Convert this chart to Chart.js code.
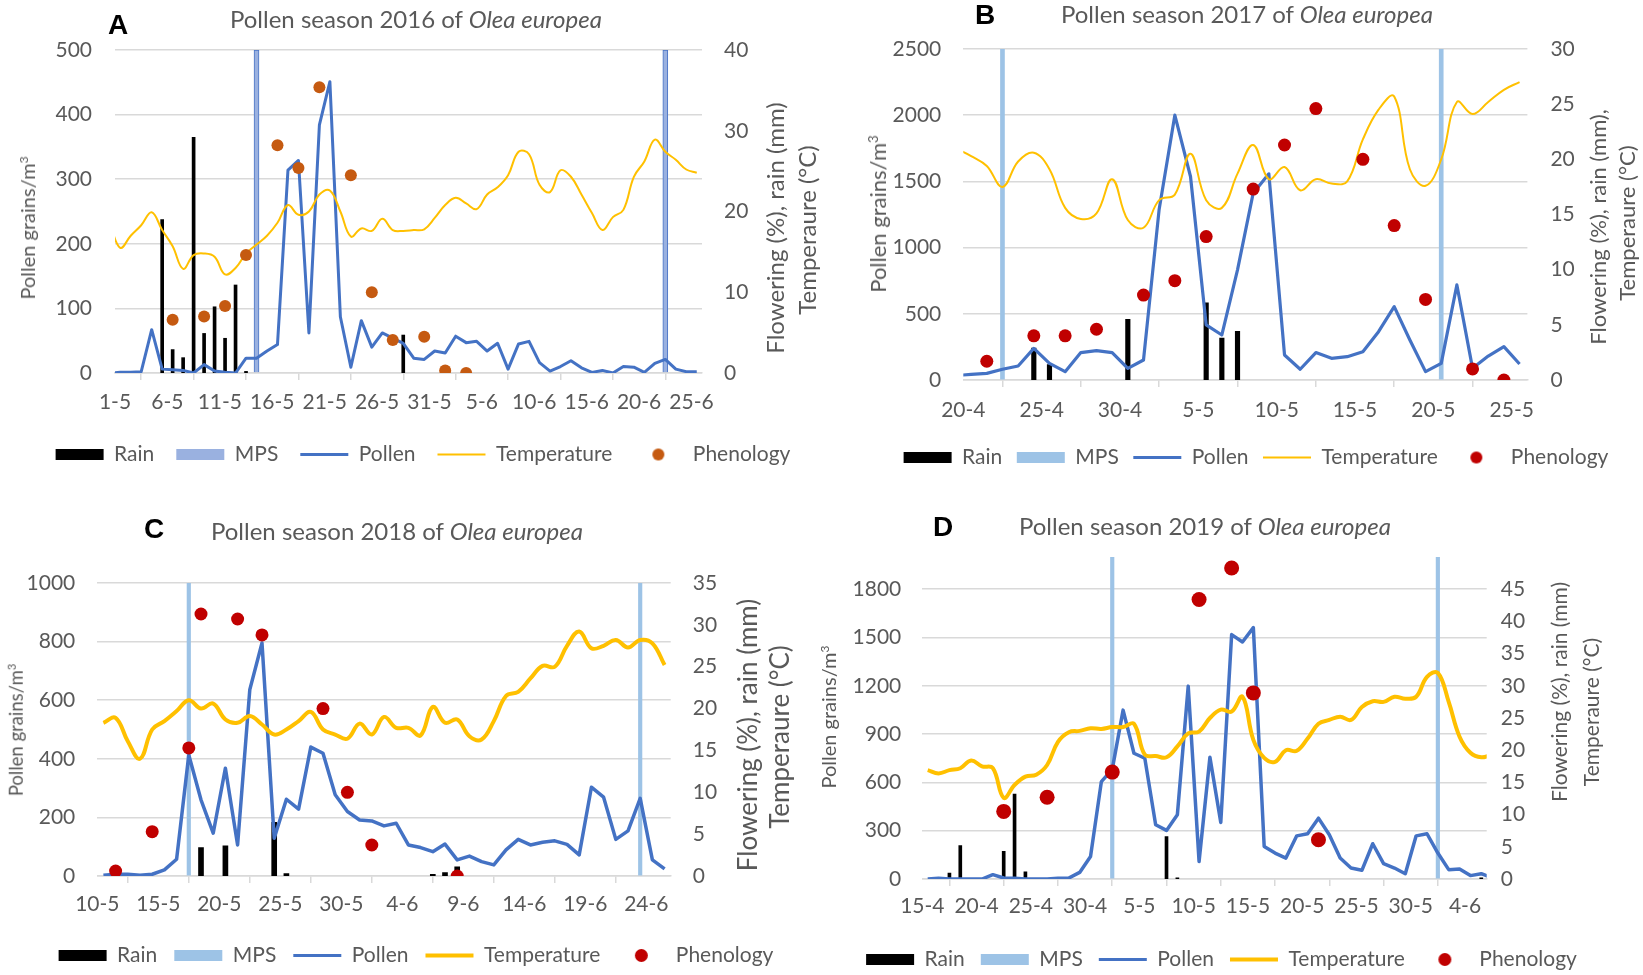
<!DOCTYPE html>
<html>
<head>
<meta charset="utf-8">
<title>Pollen seasons of Olea europea</title>
<script src="https://cdn.jsdelivr.net/npm/chart.js@4.4.1/dist/chart.umd.min.js"></script>
<style>
  html, body { margin: 0; padding: 0; background: #fff; }
  #page { position: relative; width: 1643px; height: 975px; overflow: hidden; }
  canvas { position: absolute; }
  .t { position: absolute; transform: translate(-50%, -50%); white-space: nowrap; font-family: Lato, "Open Sans", sans-serif; color: #595959; line-height: 1; }
  .v { transform: translate(-50%, -50%) rotate(-90deg); }
  .title { font-size: 24px; }
  .letter { font-family: "Liberation Sans", Arial, sans-serif; font-weight: bold; color: #000; font-size: 28px; }
  sup { font-size: 0.6em; vertical-align: 0.6em; line-height: 0; }
</style>
</head>
<body>
<div id="page">
  <canvas id="chartA"></canvas>
  <canvas id="chartB"></canvas>
  <canvas id="chartC"></canvas>
  <canvas id="chartD"></canvas>

  <div class="t letter" style="left:118px;top:25px">A</div>
  <div class="t title" style="left:416px;top:19px">Pollen season 2016 of <i>Olea europea</i></div>
  <div class="t v" style="left:27px;top:228px;font-size:20px">Pollen grains/m<sup>3</sup></div>
  <div class="t v" style="left:775px;top:228px;font-size:24px">Flowering (%), rain (mm)</div>
  <div class="t v" style="left:807px;top:230px;font-size:24px">Temperaure (°C)</div>

  <div class="t letter" style="left:985px;top:15px">B</div>
  <div class="t title" style="left:1247px;top:14px">Pollen season 2017 of <i>Olea europea</i></div>
  <div class="t v" style="left:878px;top:214px;font-size:22px">Pollen grains/m<sup>3</sup></div>
  <div class="t v" style="left:1598px;top:227px;font-size:22px">Flowering (%), rain (mm),</div>
  <div class="t v" style="left:1627px;top:223px;font-size:22px">Temperaure (°C)</div>

  <div class="t letter" style="left:154px;top:529px">C</div>
  <div class="t title" style="left:397px;top:531px">Pollen season 2018 of <i>Olea europea</i></div>
  <div class="t v" style="left:16px;top:730px;font-size:18.5px">Pollen grains/m<sup>3</sup></div>
  <div class="t v" style="left:747px;top:735px;font-size:26px">Flowering (%), rain (mm)</div>
  <div class="t v" style="left:779px;top:737px;font-size:26px">Temperaure (°C)</div>

  <div class="t letter" style="left:943px;top:527px">D</div>
  <div class="t title" style="left:1205px;top:526px">Pollen season 2019 of <i>Olea europea</i></div>
  <div class="t v" style="left:828px;top:717px;font-size:20px">Pollen grains/m<sup>3</sup></div>
  <div class="t v" style="left:1558px;top:692px;font-size:21px">Flowering (%), rain (mm)</div>
  <div class="t v" style="left:1590px;top:712px;font-size:21px">Temperaure (°C)</div>
</div>

<script>
// ---- tick labels (every 5 days) ----
const ticksA = ['1-5', '6-5', '11-5', '16-5', '21-5', '26-5', '31-5', '5-6', '10-6', '15-6', '20-6', '25-6'];
const ticksB = ['20-4', '25-4', '30-4', '5-5', '10-5', '15-5', '20-5', '25-5'];
const ticksC = ['10-5', '15-5', '20-5', '25-5', '30-5', '4-6', '9-6', '14-6', '19-6', '24-6'];
const ticksD = ['15-4', '20-4', '25-4', '30-4', '5-5', '10-5', '15-5', '20-5', '25-5', '30-5', '4-6'];

const leftTicksA = [0, 100, 200, 300, 400, 500];
const rightTicksA = [0, 10, 20, 30, 40];
const leftTicksB = [0, 500, 1000, 1500, 2000, 2500];
const rightTicksB = [0, 5, 10, 15, 20, 25, 30];
const leftTicksC = [0, 200, 400, 600, 800, 1000];
const rightTicksC = [0, 5, 10, 15, 20, 25, 30, 35];
const leftTicksD = [0, 300, 600, 900, 1200, 1500, 1800];
const rightTicksD = [0, 5, 10, 15, 20, 25, 30, 35, 40, 45];

// ---- 2016 (daily, first value is 30-4) ----
const pollenA = [0,
  1, 1, 2, 67, 6, 5, 4, 0, 13, 3,
  1, 0, 23, 23, 34, 44, 314, 329, 62, 384,
  451, 87, 9, 81, 40, 62, 54, 46, 23, 21,
  34, 31, 57, 47, 49, 34, 46, 6, 45, 49,
  16, 3, 10, 19, 8, 1, 4, 0, 10, 9,
  1, 15, 21, 6, 2, 2];
const tempA = [18.5,
  15.5, 17.0, 18.3, 19.9, 17.7, 15.7, 12.9, 14.6, 14.8, 14.4,
  12.2, 13.0, 14.8, 15.9, 17.0, 18.6, 20.8, 19.6, 20.0, 22.1,
  22.6, 20.0, 16.9, 17.9, 17.6, 19.1, 17.7, 17.6, 17.7, 17.8,
  19.2, 20.8, 21.7, 21.0, 20.3, 22.1, 23.0, 24.5, 27.4, 27.1,
  23.3, 22.4, 25.1, 24.3, 22.1, 19.8, 17.7, 19.3, 20.2, 24.3,
  26.2, 28.9, 27.4, 26.4, 25.2, 24.8];
// [day index from 1-5, value]
const rainA = [[4, 19.0], [5, 2.9], [6, 1.9], [7, 29.2], [8, 4.9], [9, 8.2], [10, 4.3], [11, 10.9], [12, 0.2], [27, 4.7]];
const phenoA = [[5, 6.6], [8, 7.0], [10, 8.3], [12, 14.6], [15, 28.2], [17, 25.4], [19, 35.4], [22, 24.5], [24, 10.0], [26, 4.1], [29, 4.5], [31, 0.3], [33, 0]];
const mpsA = [13, 52];

// ---- 2017 (daily, first value is 19-4) ----
const pollenB = [33,
  43, 50, 81, 106, 239, 126, 63, 207, 222, 207,
  88, 151, 1290, 2000, 1537, 416, 340, 832, 1411, 1557,
  189, 81, 207, 164, 176, 214, 365, 554, 302, 63,
  126, 718, 88, 181, 252, 121];
const tempB = [21.0,
  20.3, 19.4, 17.5, 19.8, 20.6, 19.1, 15.6, 14.6, 15.1, 18.2,
  14.5, 13.8, 16.3, 16.8, 20.5, 16.3, 15.6, 18.7, 21.3, 18.2,
  19.3, 17.2, 18.2, 17.8, 18.0, 21.8, 24.5, 25.7, 19.1, 17.6,
  20.0, 25.2, 24.1, 25.2, 26.3, 27.0];
const rainB = [[4, 2.9], [5, 1.4], [10, 5.5], [15, 7.0], [16, 3.8], [17, 4.4]];
const phenoB = [[1, 1.7], [4, 4.0], [6, 4.0], [8, 4.6], [11, 7.7], [13, 9.0], [15, 13.0], [18, 17.3], [20, 21.3], [22, 24.6], [25, 20.0], [27, 14.0], [29, 7.3], [32, 1.0], [34, 0]];
const mpsB = [2, 30];

// ---- 2018 (daily, first value is 10-5) ----
const pollenC = [
  3, 6, 6, 3, 6, 21, 57, 413, 260, 146,
  368, 106, 636, 795, 129, 262, 228, 440, 419, 277,
  220, 191, 188, 171, 180, 106, 97, 83, 109, 55,
  68, 49, 38, 89, 125, 106, 115, 120, 108, 72,
  303, 269, 125, 154, 265, 55, 24];
const tempC = [
  18.3, 18.9, 16.1, 14.0, 17.5, 18.5, 19.7, 21.0, 20.0, 20.6,
  18.7, 18.3, 19.1, 18.1, 16.9, 17.5, 18.5, 19.6, 17.5, 16.9,
  16.4, 18.2, 16.9, 19.0, 17.7, 17.7, 16.8, 20.2, 18.3, 18.7,
  16.7, 16.3, 18.5, 21.5, 22.0, 23.6, 25.1, 25.0, 27.5, 29.2,
  27.2, 27.5, 28.2, 27.3, 28.2, 27.8, 25.2];
const rainC = [[8, 3.4], [10, 3.6], [14, 6.4], [15, 0.3], [27, 0.2], [28, 0.4], [29, 1.1]];
const phenoC = [[1, 0.6], [4, 5.3], [7, 15.3], [8, 31.3], [11, 30.7], [13, 28.8], [18, 20.0], [20, 10.0], [22, 3.7], [29, 0]];
const mpsC = [7, 44];

// ---- 2019 (daily, first value is 15-4) ----
const pollenD = [
  0, 4, 0, 0, 0, 0, 27, 6, 4, 0,
  0, 0, 4, 6, 41, 140, 605, 681, 1049, 781,
  750, 337, 302, 399, 1198, 109, 756, 351, 1518, 1472,
  1561, 202, 161, 130, 268, 281, 378, 275, 130, 68,
  54, 219, 95, 68, 33, 268, 281, 161, 58, 62,
  21, 33, 6];
const tempD = [
  16.9, 16.4, 16.9, 17.2, 18.4, 17.5, 17.2, 12.6, 14.6, 15.9,
  16.2, 17.7, 21.3, 22.8, 23.0, 23.4, 23.3, 23.6, 23.6, 24.1,
  19.3, 19.1, 18.9, 20.6, 22.6, 22.9, 25.0, 26.3, 26.0, 28.3,
  21.6, 18.8, 18.2, 20.0, 19.9, 21.8, 24.1, 24.7, 25.2, 24.7,
  26.7, 27.6, 27.5, 28.3, 28.0, 28.3, 31.4, 32.0, 27.5, 22.1,
  19.6, 18.9, 19.3];
const rainD = [[2, 0.9], [3, 5.2], [7, 4.3], [8, 13.2], [9, 1.1], [22, 6.6], [23, 0.2], [51, 0.2]];
const phenoD = [[7, 10.5], [11, 12.7], [17, 16.6], [25, 43.4], [28, 48.3], [30, 28.9], [36, 6.1]];
const mpsD = [17, 47];

// ---- styling / layout ----
const FONT = 'Lato, "Open Sans", sans-serif';
const TEXT = '#595959';
const GRID = '#d9d9d9';
const POLLEN = '#4472C4';
const TEMP = '#FFC000';
const LEGEND_FONT = 21;
const TICK_FONT = 21;
const TICK_LEN = 7;

Chart.defaults.font.family = FONT;
Chart.defaults.color = TEXT;

const panels = [
  { id: 'chartA', left: 0, top: 0, width: 846,
    plot: { left: 115, right: 702, top: 50, bottom: 373 }, xLabelY: 402, legendY: 454, legendPad: 22,
    days: 56, start: -1, ticks: ticksA,
    leftTicks: leftTicksA, leftMax: 500, rightTicks: rightTicksA, rightMax: 40,
    pollen: pollenA, temp: tempA, rain: rainA, pheno: phenoA, mps: mpsA,
    mpsColor: '#9AB1E0', mpsBorder: '#4A74C6', phenoColor: '#C55A11',
    pollenW: 3, tempW: 2, rainW: 3, mpsW: 5, dotR: 6, legendDot: 6, leftPad: 23, rightPad: 22 },
  { id: 'chartB', left: 870, top: 0, width: 772,
    plot: { left: 963.3, right: 1527.4, top: 49, bottom: 380 }, xLabelY: 410, legendY: 457, legendPad: 14.5,
    days: 36, start: -1, ticks: ticksB,
    leftTicks: leftTicksB, leftMax: 2500, rightTicks: rightTicksB, rightMax: 30,
    pollen: pollenB, temp: tempB, rain: rainB, pheno: phenoB, mps: mpsB,
    mpsColor: '#9DC3E6', mpsBorder: null, phenoColor: '#C00000',
    pollenW: 3.2, tempW: 2, rainW: 4.5, mpsW: 4, dotR: 6.5, legendDot: 6, leftPad: 22, rightPad: 23 },
  { id: 'chartC', left: 0, top: 500, width: 832,
    plot: { left: 97.3, right: 670.7, top: 583, bottom: 876 }, xLabelY: 904, legendY: 955.6, legendPad: 17,
    days: 47, start: 0, ticks: ticksC,
    leftTicks: leftTicksC, leftMax: 1000, rightTicks: rightTicksC, rightMax: 35,
    pollen: pollenC, temp: tempC, rain: rainC, pheno: phenoC, mps: mpsC,
    mpsColor: '#9DC3E6', mpsBorder: null, phenoColor: '#C00000',
    pollenW: 3.5, tempW: 4, rainW: 5, mpsW: 3.5, dotR: 6.5, legendDot: 6.5, leftPad: 22, rightPad: 22 },
  { id: 'chartD', left: 830, top: 480, width: 783,
    plot: { left: 922.3, right: 1486.7, top: 557, bottom: 879 }, xLabelY: 906, legendY: 959.8, legendPad: 16,
    days: 52, start: 0, ticks: ticksD,
    leftTicks: leftTicksD, leftMax: 2000, rightTicks: rightTicksD, rightMax: 50,
    pollen: pollenD, temp: tempD, rain: rainD, pheno: phenoD, mps: mpsD,
    mpsColor: '#9DC3E6', mpsBorder: null, phenoColor: '#C00000',
    pollenW: 3.5, tempW: 4, rainW: 3, mpsW: 3.5, dotR: 7.5, legendDot: 6.5, leftPad: 21, rightPad: 14 }
];

const daily = (values, start) => values.map((v, i) => ({ x: start + i + 0.5, y: v }));
const byDay = pairs => pairs.map(([k, v]) => ({ x: k + 0.5, y: v }));

function dotImage(color, r) {
  const c = document.createElement('canvas');
  c.width = c.height = Math.ceil(2 * r + 2);
  const g = c.getContext('2d');
  g.fillStyle = color;
  g.beginPath();
  g.arc(c.width / 2, c.height / 2, r, 0, Math.PI * 2);
  g.fill();
  return c;
}

function drawPanel(p) {
  const canvas = document.getElementById(p.id);
  const height = Math.round(p.legendY + 10 + LEGEND_FONT / 2 - p.top);
  const legendH = LEGEND_FONT + p.legendPad + 10;
  const xAxisH = height - legendH - (p.plot.bottom - p.top);
  const xPad = p.xLabelY - p.plot.bottom - TICK_LEN - TICK_FONT * 0.6;
  canvas.width = p.width;
  canvas.height = height;
  canvas.style.left = p.left + 'px';
  canvas.style.top = p.top + 'px';

  const legendMarks = [
    { pointStyle: 'rect', fillStyle: '#000', strokeStyle: '#000', lineWidth: 0 },
    { pointStyle: 'rect', fillStyle: p.mpsColor, strokeStyle: p.mpsColor, lineWidth: 0 },
    { pointStyle: 'line', fillStyle: POLLEN, strokeStyle: POLLEN, lineWidth: 3 },
    { pointStyle: 'line', fillStyle: TEMP, strokeStyle: TEMP, lineWidth: p.tempW },
    { pointStyle: dotImage(p.phenoColor, p.legendDot), fillStyle: p.phenoColor, strokeStyle: p.phenoColor, lineWidth: 0 }
  ];

  new Chart(canvas, {
    type: 'line',
    data: {
      datasets: [
        { type: 'bar', label: 'Rain', data: byDay(p.rain), yAxisID: 'y1',
          backgroundColor: '#000', barThickness: p.rainW, grouped: false, order: 4 },
        { type: 'bar', label: 'MPS', data: p.mps.map(k => ({ x: k + 0.5, y: p.leftMax })), yAxisID: 'y',
          backgroundColor: p.mpsColor, borderColor: p.mpsBorder || p.mpsColor,
          borderWidth: p.mpsBorder ? 1 : 0, barThickness: p.mpsW, grouped: false, order: 3 },
        { label: 'Pollen', data: daily(p.pollen, p.start), yAxisID: 'y',
          borderColor: POLLEN, borderWidth: p.pollenW, tension: 0, pointRadius: 0,
          borderJoinStyle: 'round', order: 2 },
        { label: 'Temperature', data: daily(p.temp, p.start), yAxisID: 'y1',
          borderColor: TEMP, borderWidth: p.tempW, tension: 0.4, pointRadius: 0, order: 1 },
        { label: 'Phenology', data: byDay(p.pheno), yAxisID: 'y1', showLine: false,
          pointRadius: p.dotR, pointBackgroundColor: p.phenoColor, pointBorderWidth: 0, order: 0 }
      ]
    },
    options: {
      responsive: false,
      animation: false,
      devicePixelRatio: 1,
      events: [],
      layout: { padding: { top: p.plot.top - p.top, left: 0, right: 0, bottom: 0 } },
      plugins: {
        tooltip: { enabled: false },
        legend: {
          position: 'bottom',
          labels: {
            usePointStyle: true,
            pointStyleWidth: 48,
            boxHeight: 11,
            padding: p.legendPad,
            color: TEXT,
            font: { family: FONT, size: LEGEND_FONT },
            generateLabels: chart => chart.data.datasets.map((ds, i) => Object.assign({
              text: ds.label, datasetIndex: i, hidden: false, fontColor: TEXT
            }, legendMarks[i]))
          }
        }
      },
      scales: {
        x: {
          type: 'linear', min: 0, max: p.days, offset: false,
          afterBuildTicks: s => { s.ticks = p.ticks.map((_, i) => ({ value: i * 5 })); },
          afterFit: s => { s.height = xAxisH; },
          ticks: { autoSkip: false, maxRotation: 0, padding: xPad, color: TEXT,
                   font: { family: FONT, size: TICK_FONT }, callback: (v, i) => p.ticks[i] },
          grid: { drawOnChartArea: false, drawTicks: true, tickLength: TICK_LEN, color: GRID, lineWidth: 1.5 },
          border: { display: true, color: GRID, width: 1.5 }
        },
        y: {
          position: 'left', min: 0, max: p.leftMax,
          afterBuildTicks: s => { s.ticks = p.leftTicks.map(v => ({ value: v })); },
          afterFit: s => { s.width = p.plot.left - p.left; },
          ticks: { padding: p.leftPad, color: TEXT, font: { family: FONT, size: TICK_FONT }, callback: v => String(v) },
          grid: { color: GRID, lineWidth: 1.5, drawTicks: false },
          border: { display: false }
        },
        y1: {
          position: 'right', min: 0, max: p.rightMax,
          afterBuildTicks: s => { s.ticks = p.rightTicks.map(v => ({ value: v })); },
          afterFit: s => { s.width = p.left + p.width - p.plot.right; },
          ticks: { padding: p.rightPad, color: TEXT, font: { family: FONT, size: TICK_FONT }, callback: v => String(v) },
          grid: { display: false, drawTicks: false },
          border: { display: false }
        }
      }
    }
  });
}

panels.forEach(drawPanel);
</script>
</body>
</html>
